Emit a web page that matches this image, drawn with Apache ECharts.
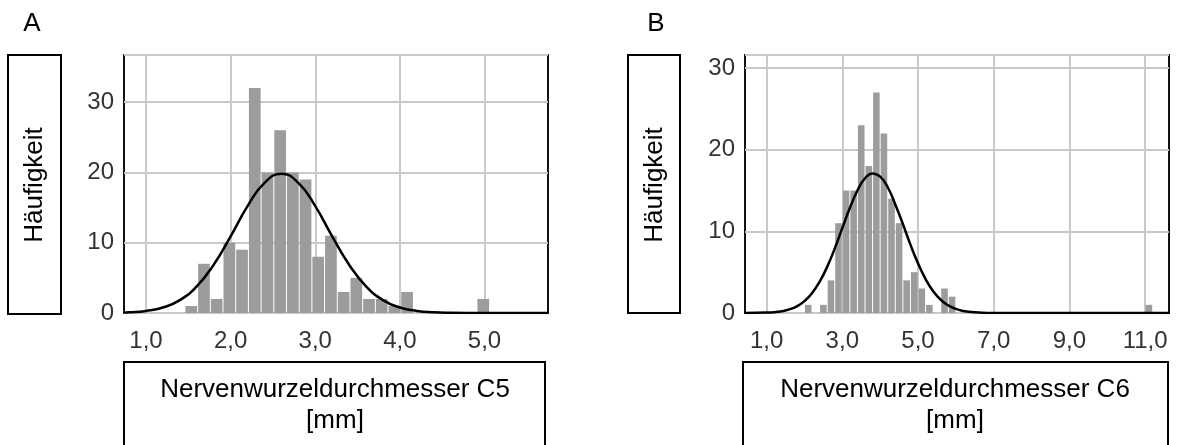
<!DOCTYPE html>
<html>
<head>
<meta charset="utf-8">
<script src="https://cdn.jsdelivr.net/npm/echarts@6/dist/echarts.min.js"></script>
<style>
  html, body { margin: 0; padding: 0; background: #fff; }
  #chart { width: 1177px; height: 445px; }
</style>
</head>
<body>
<div id="chart"></div>
<script>
// Panel A: C5 histogram (bin left edges, counts) + fitted normal curve
const binWidthA = 0.15;
const binStartA = [1.46, 1.61, 1.76, 1.91, 2.06, 2.21, 2.36, 2.51, 2.66, 2.81, 2.96, 3.11, 3.26, 3.41, 3.56, 3.71, 3.86, 4.01, 4.91];
const countsA   = [1, 7, 2, 10, 9, 32, 20, 26, 20, 19, 8, 11, 3, 5, 2, 2, 1, 3, 2];
const curveXA = [0.74, 0.8, 1.0, 1.2, 1.4, 1.6, 1.8, 2.0, 2.2, 2.4, 2.6, 2.8, 3.0, 3.2, 3.4, 3.6, 3.8, 4.0, 4.2, 4.4, 4.6, 4.8, 5.0, 5.4, 5.75];
const curveYA = [0.06, 0.09, 0.29, 0.78, 1.83, 3.79, 6.87, 10.9, 15.2, 18.5, 19.8, 18.5, 15.2, 10.9, 6.87, 3.79, 1.83, 0.78, 0.29, 0.09, 0.02, 0, 0, 0, 0];
const xTicksA = [1, 2, 3, 4, 5];

// Panel B: C6 histogram + fitted normal curve
const binWidthB = 0.2;
const binStartB = [2.0, 2.4, 2.6, 2.8, 3.0, 3.2, 3.4, 3.6, 3.8, 4.0, 4.2, 4.4, 4.6, 4.8, 5.0, 5.2, 5.6, 5.8, 11.0];
const countsB   = [1, 1, 4, 11, 15, 15, 23, 18, 27, 22, 14, 11, 4, 5, 3, 1, 3, 2, 1];
const curveXB = [0.43, 1.0, 1.2, 1.4, 1.6, 1.8, 2.0, 2.2, 2.4, 2.6, 2.8, 3.0, 3.2, 3.4, 3.6, 3.8, 4.0, 4.2, 4.4, 4.6, 4.8, 5.0, 5.2, 5.4, 5.6, 5.8, 6.0, 6.2, 6.4, 6.6, 7.0, 11.63];
const curveYB = [0, 0.05, 0.10, 0.22, 0.44, 0.82, 1.46, 2.43, 3.82, 5.65, 7.89, 10.4, 12.85, 15.0, 16.5, 17.1, 16.7, 15.4, 13.3, 10.9, 8.37, 6.08, 4.15, 2.67, 1.62, 0.93, 0.5, 0.25, 0.12, 0.05, 0, 0];
const xTicksB = [1, 3, 5, 7, 9, 11];

const FONT = '"Liberation Sans", Arial, Helvetica, sans-serif';
const chart = echarts.init(document.getElementById('chart'));

function histData(starts, counts, w) {
    return starts.map((s, i) => [s, +(s + w).toFixed(3), counts[i]]);
}
function pairs(xs, ys) {
    return xs.map((x, i) => [x, ys[i]]);
}
function renderBar(params, api) {
    const p0 = api.coord([api.value(0), api.value(2)]);
    const p1 = api.coord([api.value(1), 0]);
    return {
        type: 'rect',
        shape: { x: p0[0] + 0.5, y: p0[1], width: p1[0] - p0[0] - 1, height: p1[1] - p0[1] },
        style: { fill: '#9c9c9c' }
    };
}

const gridLine = { show: true, lineStyle: { color: '#c9c9c9', width: 2 } };
const tickLabel = { color: '#333', fontSize: 24, fontFamily: FONT };

function xAxis(idx, min, max, ticks) {
    return {
        type: 'value', gridIndex: idx, min: min, max: max,
        axisLine: { show: false },
        axisTick: { show: false, customValues: ticks },
        axisLabel: Object.assign({ margin: 16, customValues: ticks,
            formatter: v => v.toFixed(1).replace('.', ',') }, tickLabel),
        splitLine: gridLine
    };
}
function yAxis(idx, max) {
    return {
        type: 'value', gridIndex: idx, min: 0, max: max, interval: 10,
        axisLine: { show: false },
        axisTick: { show: false },
        axisLabel: Object.assign({ margin: 10, showMaxLabel: false }, tickLabel),
        splitLine: gridLine
    };
}

function box(x, y, w, h) {
    return { type: 'rect', shape: { x: x, y: y, width: w, height: h },
        style: { fill: 'none', stroke: '#000', lineWidth: 2 }, z: 10 };
}
function label(text, x, y, rot, size) {
    return { type: 'text', x: x, y: y, rotation: rot || 0, z: 11,
        style: { text: text, fill: '#000', font: (size || 26) + 'px ' + FONT,
                 align: 'center', verticalAlign: 'middle', lineHeight: 31 } };
}

chart.setOption({
    animation: false,
    textStyle: { fontFamily: FONT },
    grid: [
        { left: 124, top: 55, width: 424, height: 258, show: true, borderColor: '#111', borderWidth: 2, outerBoundsMode: 'none' },
        { left: 745, top: 55, width: 424, height: 258, show: true, borderColor: '#111', borderWidth: 2, outerBoundsMode: 'none' }
    ],
    xAxis: [xAxis(0, 0.74, 5.75, xTicksA), xAxis(1, 0.43, 11.63, xTicksB)],
    yAxis: [yAxis(0, 36.7), yAxis(1, 31.6)],
    series: [
        { type: 'custom', xAxisIndex: 0, yAxisIndex: 0, renderItem: renderBar,
          encode: { x: [0, 1], y: 2 }, data: histData(binStartA, countsA, binWidthA), clip: true, z: 2 },
        { type: 'line', xAxisIndex: 0, yAxisIndex: 0, data: pairs(curveXA, curveYA), smooth: true,
          symbol: 'none', lineStyle: { color: '#000', width: 2.5 }, clip: true, z: 3 },
        { type: 'custom', xAxisIndex: 1, yAxisIndex: 1, renderItem: renderBar,
          encode: { x: [0, 1], y: 2 }, data: histData(binStartB, countsB, binWidthB), clip: true, z: 2 },
        { type: 'line', xAxisIndex: 1, yAxisIndex: 1, data: pairs(curveXB, curveYB), smooth: true,
          symbol: 'none', lineStyle: { color: '#000', width: 2.5 }, clip: true, z: 3 }
    ],
    graphic: [
        label('A', 32, 24, 0, 26),
        label('B', 656, 24, 0, 26),
        box(8, 55, 53, 259),
        label('Häufigkeit', 35, 185, Math.PI / 2),
        box(628, 55, 52, 258),
        label('Häufigkeit', 655, 185, Math.PI / 2),
        box(124, 362, 421, 100),
        label('Nervenwurzeldurchmesser C5\n[mm]', 335, 405),
        box(743, 362, 425, 100),
        label('Nervenwurzeldurchmesser C6\n[mm]', 955, 405)
    ]
});
</script>
</body>
</html>
